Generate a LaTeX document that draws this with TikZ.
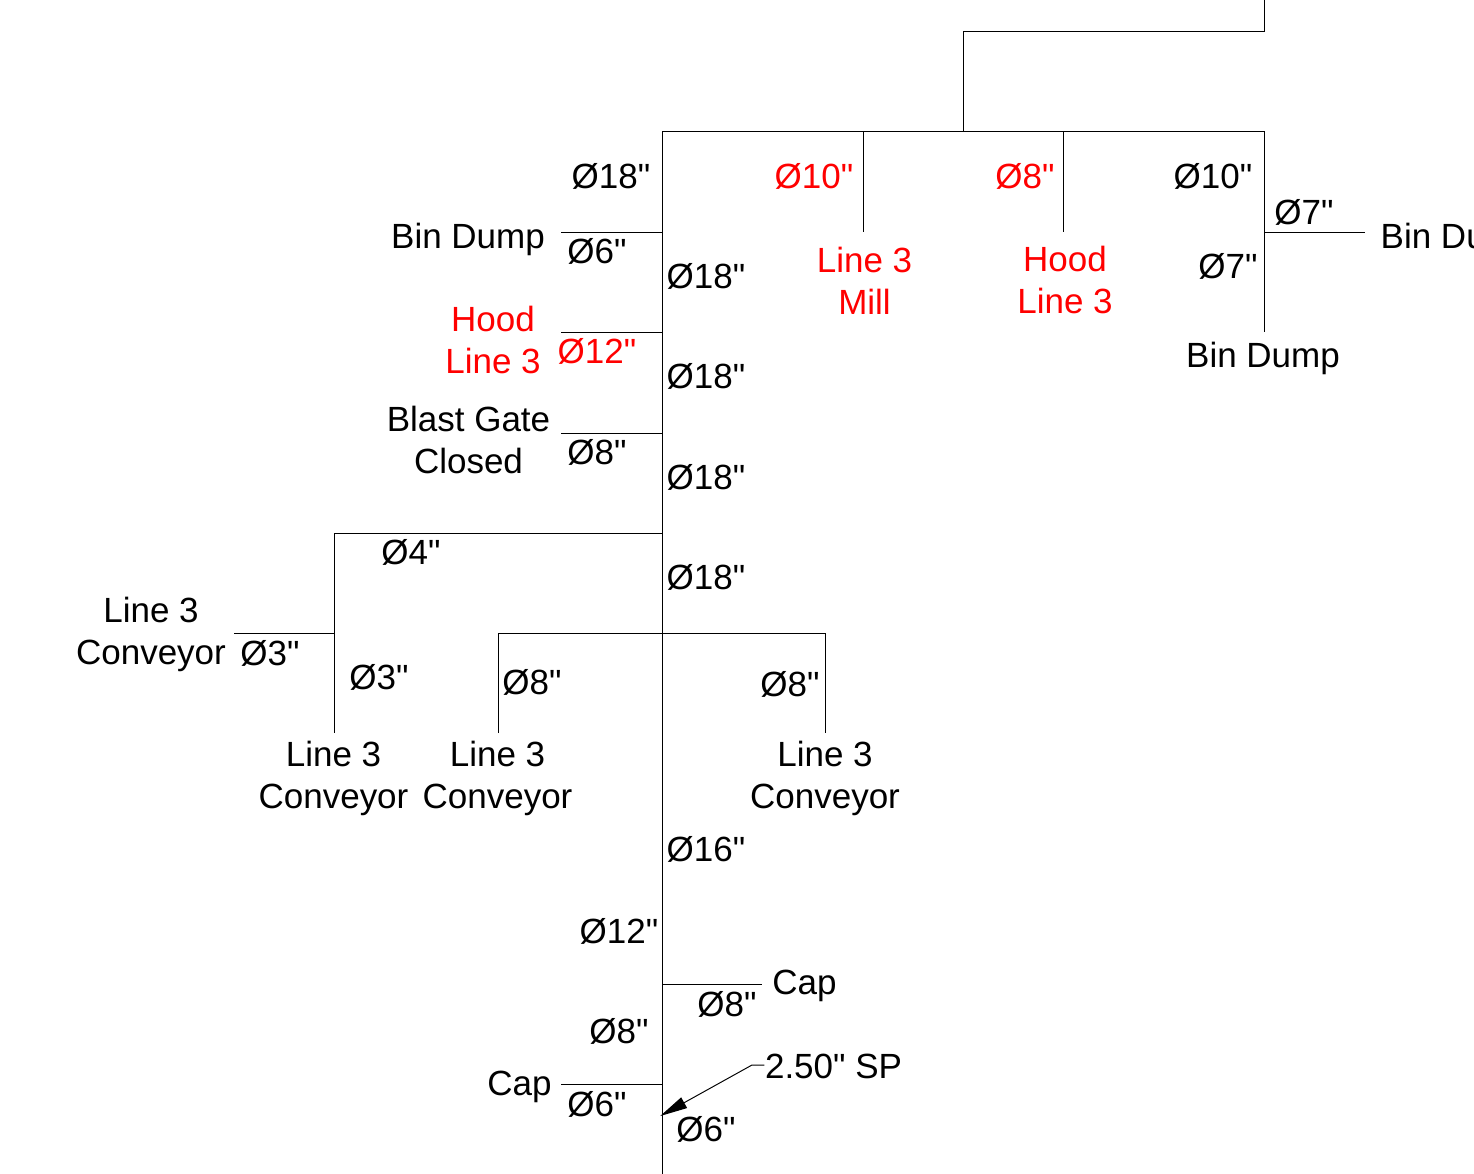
\documentclass[tikz,border=0pt]{standalone}
\usepackage{fontspec}
\setmainfont{Liberation Sans}[Ligatures=TeXOff]
\usetikzlibrary{arrows.meta}
\tikzset{
	pipe/.style={line width=0.28pt},
	lbl/.style={inner sep=0pt,align=center,font=\fontsize{9.95}{11.95}\selectfont},
	redlbl/.style={lbl,text=red},
	leader/.style={pipe,{Triangle[length=7.8pt,width=3.4pt,sep=-0.6pt]}-}
}
\begin{document}
\begin{tikzpicture}[x=0.01cm,y=-0.01cm]
	\useasboundingbox (0,0) rectangle (1474,1174);
	\clip (0,0) rectangle (1474,1174);
	% trunk and its branch points
	\coordinate (top) at (662.1,131.6);
	\coordinate (bot) at (662.1,1174);
	\coordinate (r1) at (1264.1,131.6);
	\coordinate (r2) at (1264.1,232.5);
	\coordinate (r3) at (1264.1,332.5);
	\coordinate (r4) at (1365,232.5);
	\coordinate (m1) at (863.1,131.6);
	\coordinate (m2) at (863.1,232.5);
	\coordinate (h1) at (1063,131.6);
	\coordinate (h2) at (1063,232.5);
	\coordinate (f1) at (963.1,131.6);
	\coordinate (f2) at (963.1,31.6);
	\coordinate (f3) at (1264.1,31.6);
	\coordinate (f4) at (1264.1,0);
	\draw[pipe] (top) -- (bot);
	\draw[pipe] (top) -- (r1) -- (r3);
	\draw[pipe] (r2) -- (r4);
	\draw[pipe] (m1) -- (m2);
	\draw[pipe] (h1) -- (h2);
	\draw[pipe] (f1) -- (f2) -- (f3) -- (f4);
	\foreach \y/\l/\n in {232.5/561/a,332.5/561/b,433/561/c,1084/561/d}{
		\coordinate (s\n) at (\l,\y);
		\coordinate (t\n) at (662.1,\y);
		\draw[pipe] (s\n) -- (t\n);
	}
	\coordinate (capj) at (662.1,984.5);
	\coordinate (cape) at (762,984.5);
	\draw[pipe] (capj) -- (cape);
	\coordinate (w1) at (662.1,533);
	\coordinate (w2) at (334.5,533);
	\coordinate (w3) at (334.5,733);
	\coordinate (w4) at (334.5,633);
	\coordinate (w5) at (234,633);
	\draw[pipe] (w1) -- (w2) -- (w3);
	\draw[pipe] (w4) -- (w5);
	\coordinate (v1) at (498,733);
	\coordinate (v2) at (498,633);
	\coordinate (v3) at (825,633);
	\coordinate (v4) at (825,733);
	\draw[pipe] (v1) -- (v2) -- (v3) -- (v4);
	% duct sizes
	\foreach \x/\y/\t [count=\i] in {611/176/18,1213/176/10,1304/212/7,1228/266/7,597/251/6,706/276/18,706/376/18,706/477/18,706/577/18,597/452/8,411/552/4,270/653/3,379/677/3,532/682/8,790/684/8,706/849/16,619/931/12,727/1004/8,619/1031/8,597/1104/6,706/1129/6}
		\node[lbl] (dia\i) at (\x,\y) {Ø\t"};
	\foreach \x/\y/\t [count=\i] in {814/176/10,1025/176/8,597/351/12}
		\node[redlbl] (rdia\i) at (\x,\y) {Ø\t"};
	% end labels
	\node[lbl] (bin1) at (468,239.5) {Bin Dump};
	\node[lbl] (bin2) at (1263,358.5) {Bin Dump};
	\node[lbl,anchor=west] (bin3) at (1380,239.5) {Bin Dump};
	\node[redlbl] (mill) at (864.5,281) {Line 3\\Mill};
	\node[redlbl] (hood1) at (1065,280) {Hood\\Line 3};
	\node[redlbl] (hood2) at (493,340) {Hood\\Line 3};
	\node[lbl] (gate) at (468.5,440) {Blast Gate\\Closed};
	\node[lbl] (conv1) at (151,634.5) {Line 3\\Conveyor};
	\node[lbl] (conv2) at (333.5,778.5) {Line 3\\Conveyor};
	\node[lbl] (conv3) at (497.5,778.5) {Line 3\\Conveyor};
	\node[lbl] (conv4) at (825,778.5) {Line 3\\Conveyor};
	\node[lbl] (cap1) at (804.5,985.5) {Cap};
	\node[lbl] (cap2) at (519.5,1086.5) {Cap};
	\node[lbl] (sp) at (833.5,1066) {2.50" SP};
	% static pressure leader
	\coordinate (tip) at (662,1115);
	\coordinate (kink) at (752,1065);
	\draw[leader] (tip) -- (kink) -- (sp.west |- kink);
\end{tikzpicture}
\end{document}
